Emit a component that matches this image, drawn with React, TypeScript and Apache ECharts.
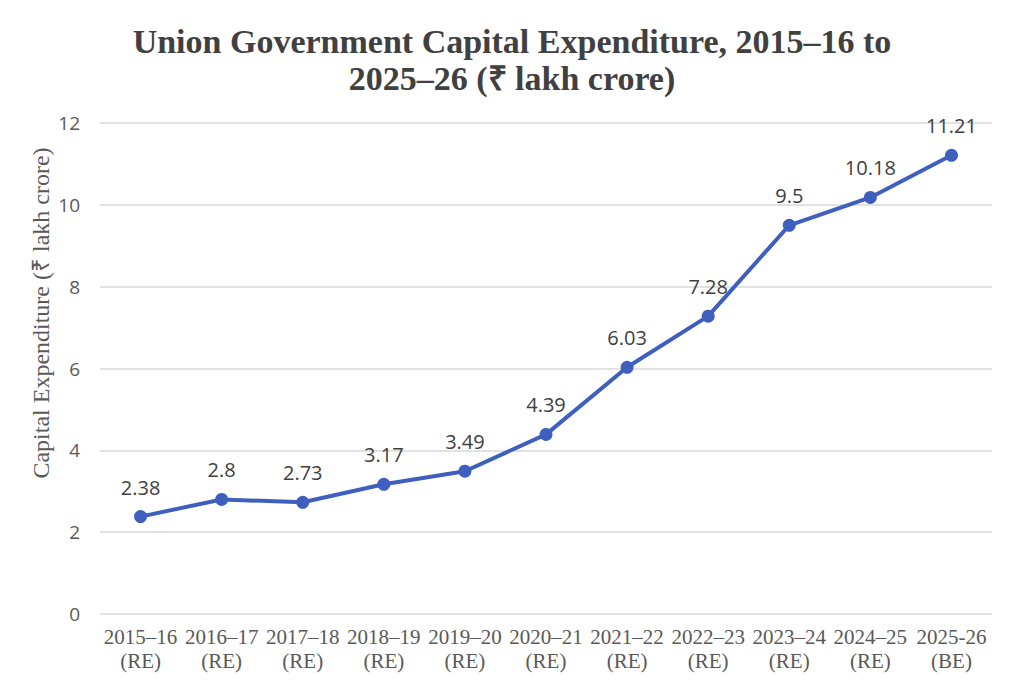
import React, { useEffect, useRef } from "react";
import * as echarts from "echarts";

const years = ["2015–16", "2016–17", "2017–18", "2018–19", "2019–20", "2020–21", "2021–22", "2022–23", "2023–24", "2024–25", "2025-26"];
const estimateTypes = ["RE", "RE", "RE", "RE", "RE", "RE", "RE", "RE", "RE", "RE", "BE"];
const capex = [2.38, 2.8, 2.73, 3.17, 3.49, 4.39, 6.03, 7.28, 9.5, 10.18, 11.21];
const yTicks = { min: 0, max: 12, interval: 2 };
const yAxisTitle = "Capital Expenditure (₹ lakh crore)";

const categories = years.map((y, i) => `${y}\n(${estimateTypes[i]})`);

export default function App() {
  const ref = useRef<HTMLDivElement>(null);
  useEffect(() => {
    if (!ref.current) return;
    const chart = echarts.init(ref.current, null, { renderer: "svg" });
    chart.setOption({
      animation: false,
      backgroundColor: "#ffffff",
      title: {
        text: "Union Government Capital Expenditure, 2015–16 to\n2025–26 (₹ lakh crore)",
        left: "center",
        top: 18,
        textStyle: {
          fontFamily: "Liberation Serif",
          fontWeight: "bold",
          fontSize: 34,
          lineHeight: 37,
          color: "#404040",
        },
      },
      graphic: [
        {
          type: "text",
          x: 41,
          y: 313,
          rotation: Math.PI / 2,
          style: {
            text: yAxisTitle,
            align: "center",
            verticalAlign: "middle",
            fontFamily: "Liberation Serif",
            fontSize: 24,
            fill: "#595959",
          },
        },
      ],
      grid: { left: 100, right: 32, top: 123, bottom: 84 },
      xAxis: {
        type: "category",
        data: categories,
        boundaryGap: true,
        axisLine: { show: false },
        axisTick: { show: false },
        axisLabel: {
          interval: 0,
          margin: 11,
          fontFamily: "Liberation Serif",
          fontSize: 21,
          lineHeight: 24,
          color: "#595959",
        },
      },
      yAxis: {
        type: "value",
        min: yTicks.min,
        max: yTicks.max,
        interval: yTicks.interval,
        axisLine: { show: false },
        axisTick: { show: false },
        axisLabel: {
          margin: 20,
          fontFamily: "Open Sans",
          fontSize: 19,
          color: "#595959",
        },
        splitLine: { lineStyle: { color: "#d9d9d9", width: 1.5 } },
      },
      series: [
        {
          type: "line",
          data: capex,
          symbol: "circle",
          symbolSize: 13,
          lineStyle: { color: "#3f5fbf", width: 4 },
          itemStyle: { color: "#3f5fbf" },
          label: {
            show: true,
            position: "top",
            distance: 13,
            fontFamily: "Open Sans",
            fontSize: 20,
            color: "#404040",
          },
        },
      ],
    });
    return () => chart.dispose();
  }, []);
  return <div ref={ref} style={{ width: 1024, height: 698, margin: -8 }} />;
}
